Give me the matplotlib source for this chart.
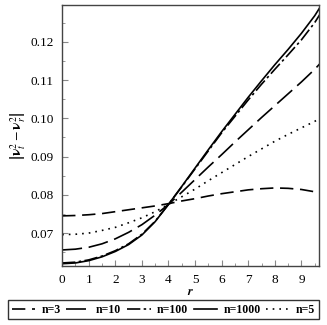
import matplotlib
matplotlib.use("Agg")
import matplotlib.pyplot as plt
from matplotlib.ticker import MultipleLocator

plt.rcParams['font.family'] = ['Liberation Serif', 'DejaVu Serif']
plt.rcParams['mathtext.fontset'] = 'stix'

# Data
r = [0, 0.5, 1, 1.5, 2, 2.5, 3, 3.5, 4, 4.5, 5, 5.5, 6, 6.5, 7, 7.5, 8, 8.5, 9, 9.5, 9.7]

n3 = [0.0745, 0.0746, 0.0748, 0.0751, 0.0756, 0.0761, 0.0766, 0.0771, 0.0777, 0.0784,
      0.0790, 0.0797, 0.0803, 0.0808, 0.0813, 0.0816, 0.0818, 0.0817, 0.0814, 0.0808, 0.0805]
n10 = [0.0656, 0.0658, 0.0663, 0.0672, 0.0685, 0.0702, 0.0722, 0.0747, 0.0775, 0.0807,
       0.0840, 0.0873, 0.0905, 0.0938, 0.0970, 0.1002, 0.1033, 0.1064, 0.1095, 0.1128, 0.1143]
n100 = [0.0622, 0.0624, 0.0630, 0.0640, 0.0654, 0.0672, 0.0697, 0.0731, 0.0775, 0.0821,
        0.0868, 0.0915, 0.0962, 0.1005, 0.1048, 0.1089, 0.1128, 0.1166, 0.1205, 0.1250, 0.1272]
n1000 = [0.0620, 0.0622, 0.0628, 0.0638, 0.0652, 0.0670, 0.0695, 0.0730, 0.0775, 0.0822,
         0.0870, 0.0918, 0.0965, 0.1010, 0.1055, 0.1098, 0.1140, 0.1180, 0.1222, 0.1268, 0.1290]
n5 = [0.0696, 0.0697, 0.0700, 0.0707, 0.0715, 0.0727, 0.0740, 0.0756, 0.0775, 0.0795,
      0.0815, 0.0837, 0.0858, 0.0879, 0.0900, 0.0920, 0.0940, 0.0958, 0.0975, 0.0992, 0.1000]

fig = plt.figure(figsize=(3.27, 3.25), dpi=100)
ax = fig.add_axes([0.19, 0.1815, 0.787, 0.803])

lw = 1.2
ax.plot(r, n3, color='black', lw=lw, dashes=(8, 4), label='n=3')
ax.plot(r, n10, color='black', lw=lw, dashes=(12, 4), label='n=10')
ax.plot(r, n100, color='black', lw=lw, dashes=(8, 2, 1.5, 2), label='n=100')
ax.plot(r, n1000, color='black', lw=lw, label='n=1000')
ax.plot(r, n5, color='black', lw=lw, dashes=(1, 3), label='n=5')

ax.set_xlim(0, 9.68)
ax.set_ylim(0.0614, 0.1296)
ax.set_xticks(range(10))
ax.set_yticks([0.07, 0.08, 0.09, 0.10, 0.11, 0.12])
ax.set_yticklabels(['0.07', '0.08', '0.09', '0.10', '0.11', '0.12'])
ax.xaxis.set_minor_locator(MultipleLocator(0.5))
ax.yaxis.set_minor_locator(MultipleLocator(0.005))
ax.tick_params(which='both', direction='in', labelsize=9.5, color='#888888')
ax.tick_params(which='major', length=4, pad=6)
ax.tick_params(which='minor', length=2)
for s in ax.spines.values():
    s.set_color('#444444')
    s.set_linewidth(1.0)

ax.set_xlabel(r'$\boldsymbol{r}$', fontsize=9, labelpad=0)
ax.set_ylabel(r'$\left|\mathbf{\nu}_{t}^{2}-\mathbf{\nu}_{r}^{2}\right|$', fontsize=10, labelpad=2)

leg = fig.legend(loc='lower center', bbox_to_anchor=(0.5, 0.01), ncol=5,
                 prop={'weight': 'bold', 'size': 8.5}, frameon=True, fancybox=False,
                 handlelength=2.0, handletextpad=0.5, columnspacing=0.5,
                 borderpad=0.3, borderaxespad=0.2)
leg.get_frame().set_edgecolor('black')
leg.get_frame().set_linewidth(1.0)

fig.savefig('out.png', dpi=100)
